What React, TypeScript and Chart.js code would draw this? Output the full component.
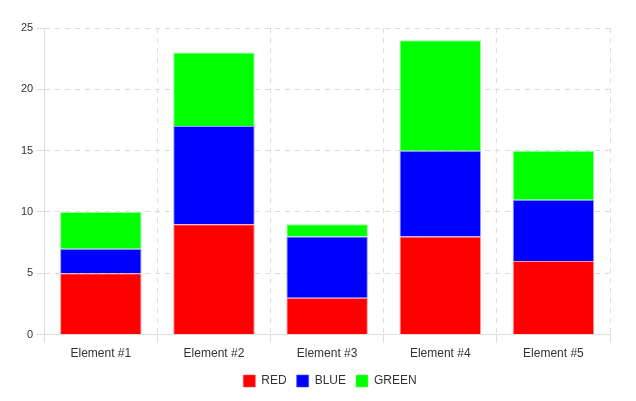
import React, { useEffect, useRef } from "react";
import { Chart, registerables } from "chart.js";

Chart.register(...registerables);

const categories = ["Element #1", "Element #2", "Element #3", "Element #4", "Element #5"];
const redValues = [5, 9, 3, 8, 6];
const blueValues = [2, 8, 5, 7, 5];
const greenValues = [3, 6, 1, 9, 4];

const legendShift = {
  id: "legendShift",
  afterLayout(chart: any) {
    const l = chart.legend;
    if (l) {
      l.left += 16;
      l.right += 16;
    }
  },
};

export default function App() {
  const ref = useRef<HTMLCanvasElement | null>(null);
  useEffect(() => {
    if (!ref.current) return;
    Chart.defaults.font.family = "'Liberation Sans', Arial, sans-serif";
    Chart.defaults.font.size = 12;
    Chart.defaults.color = "#333";
    const chart = new Chart(ref.current, {
      type: "bar",
      data: {
        labels: categories,
        datasets: [
          { label: "RED", data: redValues, backgroundColor: "#ff0000", borderColor: "rgba(255,80,80,0.6)", borderWidth: 1 },
          { label: "BLUE", data: blueValues, backgroundColor: "#0000ff", borderColor: "rgba(80,80,255,0.6)", borderWidth: 1 },
          { label: "GREEN", data: greenValues, backgroundColor: "#00ff00", borderColor: "rgba(80,255,80,0.6)", borderWidth: 1 },
        ],
      },
      plugins: [legendShift],
      options: {
        animation: false,
        responsive: false,
        layout: { padding: { top: 20, right: 18, left: 10, bottom: 2 } },
        plugins: {
          legend: {
            position: "bottom",
            labels: { boxWidth: 12, boxHeight: 12, padding: 10, font: { size: 12 }, color: "#333" },
          },
          tooltip: { enabled: false },
        },
        scales: {
          x: {
            stacked: true,
            grid: { color: "#dddddd" },
            border: { color: "#dddddd", dash: [5, 5] } as any,
            ticks: { color: "#333", font: { size: 12 }, padding: 4 },
          },
          y: {
            stacked: true,
            min: 0,
            max: 25,
            ticks: { stepSize: 5, color: "#333", font: { size: 11 } },
            grid: { color: "#dddddd" },
            border: { color: "#dddddd", dash: [5, 5] } as any,
          },
        },
      },
    });
    return () => chart.destroy();
  }, []);
  return <canvas ref={ref} width={620} height={391} style={{ display: "block" }} />;
}
